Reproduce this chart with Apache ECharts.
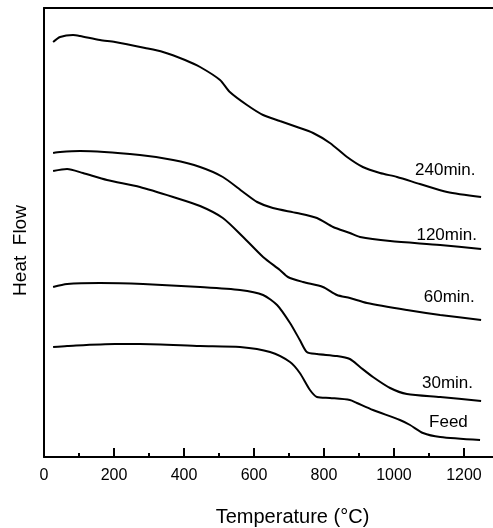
<!DOCTYPE html>
<html>
<head>
<meta charset="utf-8">
<script src="https://cdn.jsdelivr.net/npm/echarts@6/dist/echarts.min.js"></script>
<style>html,body{margin:0;padding:0;background:#fff}#c{width:493px;height:528px}</style>
</head>
<body>
<div id="c"></div>
<script>
// Temperature (°C) and heat flow (arbitrary units)
var t240 = [26,46,83,103,160,203,289,340,403,446,503,531,580,626,674,723,769,817,866,911,960,1009,1074,1152,1249];
var v240 = [415,420,422,421,417,415,409,405,397,390,377,365,352,342,336,330,324,314,300,290,284,280,273,265,260];
var t120 = [26,46,103,274,369,446,511,569,609,654,723,780,826,874,903,989,1132,1249];
var v120 = [304,305,306,302,297,290,280,265,255,249,244,239,230,224,220,216,212,208];
var t60 = [26,66,111,180,274,369,446,511,569,626,674,697,740,797,837,874,923,1037,1132,1249];
var v60 = [286,288,284,277,270,260,251,239,220,200,187,180,175,170,162,159,154,147,142,137];
var t30 = [26,66,160,283,446,560,626,666,703,731,751,780,837,874,903,940,989,1037,1132,1249];
var v30 = [170,173,174,173,170,167,162,152,134,117,105,103,101,98,90,80,69,63,60,56];
var tFeed = [26,66,203,274,446,560,646,703,731,760,780,817,874,894,940,1017,1046,1083,1132,1246];
var vFeed = [110,111,113,113,111,110,105,95,84,67,60,59,57,54,47,37,32,24,20,17];

var seriesNames = ['240min.','120min.','60min.','30min.','Feed'];
var labelT = [1233,1237,1231,1226,1211];
var labelV = [287,222,160,74,35];

var majorTicks = [0,200,400,600,800,1000,1200];
var minorTicks = [100,300,500,700,900,1100];

var temps = [t240,t120,t60,t30,tFeed];
var vals = [v240,v120,v60,v30,vFeed];

var FONT = 'Liberation Sans, Arial, Helvetica, sans-serif';
var chart = echarts.init(document.getElementById('c'), null, {renderer:'canvas'});

var series = seriesNames.map(function(name, i){
  return {
    name: name,
    type: 'line',
    xAxisIndex: 0,
    data: temps[i].map(function(t, j){ return [t, vals[i][j]]; }),
    showSymbol: false,
    symbol: 'none',
    smooth: 0.25,
    lineStyle: {color:'#000', width:2},
    silent: true,
    markPoint: {
      symbol: 'circle', symbolSize: 0, silent: true,
      data: [{coord:[labelT[i], labelV[i]]}],
      label: {show:true, position:'left', distance:0, formatter: name,
              color:'#000', fontSize:17, fontFamily: FONT}
    }
  };
});

chart.setOption({
  animation: false,
  backgroundColor: '#fff',
  grid: {left:44, right:0, top:8, bottom:71, containLabel:false, outerBoundsMode:'none'},
  xAxis: [{
    type:'value', min:0, max:1283, position:'bottom',
    name:'Temperature (°C)', nameLocation:'middle', nameGap:50,
    nameTextStyle:{color:'#000', fontSize:20, fontFamily:FONT, padding:[0,0,0,48]},
    axisLine:{show:true, lineStyle:{color:'#000', width:2}},
    axisTick:{show:true, inside:true, length:9, customValues: majorTicks, lineStyle:{color:'#000', width:2}},
    axisLabel:{show:true, customValues: majorTicks, color:'#000', fontSize:16, fontFamily:FONT, margin:11,
               formatter:function(v){ return String(v); }},
    splitLine:{show:false}
  },{
    type:'value', min:0, max:1283, position:'bottom', gridIndex:0,
    axisLine:{show:false},
    axisTick:{show:true, inside:true, length:4, customValues: minorTicks, lineStyle:{color:'#000', width:2}},
    axisLabel:{show:false},
    splitLine:{show:false}
  },{
    type:'value', min:0, max:1283, position:'top', gridIndex:0,
    axisLine:{show:true, lineStyle:{color:'#000', width:2}},
    axisTick:{show:false}, axisLabel:{show:false}, splitLine:{show:false}
  }],
  yAxis: {
    type:'value', min:0, max:449,
    name:'Heat  Flow', nameLocation:'middle', nameGap:14,
    nameTextStyle:{color:'#000', fontSize:19, fontFamily:FONT, padding:[0,36,0,0]},
    axisLine:{show:true, lineStyle:{color:'#000', width:2}},
    axisTick:{show:false}, axisLabel:{show:false}, splitLine:{show:false}
  },
  series: series
});
</script>
</body>
</html>
